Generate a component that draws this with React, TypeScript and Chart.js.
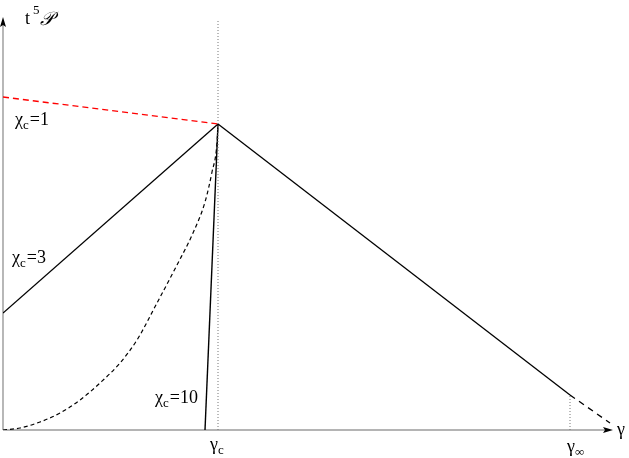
import React, { useEffect, useRef } from "react";
import { Chart, registerables } from "chart.js";

Chart.register(...registerables);

const W = 629;
const H = 458;

// data (units: arbitrary, origin at the axes crossing)
const redX = [0, 215];
const redY = [333, 306];
const chi3X = [0, 215];
const chi3Y = [117, 306];
const chi10X = [202, 215];
const chi10Y = [0, 306];
const curveX = [0, 17, 37, 57, 77, 97, 117, 134, 154, 174, 190, 202, 209, 214, 215];
const curveY = [0, 2, 8, 17, 30, 47, 67, 90, 127, 165, 197, 228, 258, 287, 306];
const rightX = [215, 567];
const rightY = [306, 35];
const tailX = [567, 607];
const tailY = [35, 7];
const gammaC = 215;
const gammaInf = 567;
const gammaCTop = 410;
const gammaInfTop = 35;

const labelMain = ["χ", "χ", "χ", "γ", "γ", "γ"];
const labelSub = ["c", "c", "c", "c", "∞", ""];
const labelRest = ["=1", "=3", "=10", "", "", ""];
const labelX = [12, 9, 152, 207, 564, 614];
const labelY = [305, 167, 27, -20, -22, -5];

const pts = (xs: number[], ys: number[]) => xs.map((x, i) => ({ x, y: ys[i] }));

export default function App() {
  const ref = useRef<HTMLCanvasElement>(null);
  useEffect(() => {
    if (!ref.current) return;
    const font = "Liberation Serif";
    const decor = {
      id: "decor",
      beforeDatasetsDraw(chart: any) {
        const ctx = chart.ctx as CanvasRenderingContext2D;
        const xs = chart.scales.x;
        const ys = chart.scales.y;
        const x0 = xs.getPixelForValue(0);
        const y0 = ys.getPixelForValue(0);
        const xEnd = xs.getPixelForValue(xs.max);
        const yTop = ys.getPixelForValue(ys.max);
        ctx.save();
        ctx.strokeStyle = "#b4b4b4";
        ctx.lineWidth = 2;
        ctx.beginPath();
        ctx.moveTo(x0, y0);
        ctx.lineTo(xEnd - 4, y0);
        ctx.stroke();
        ctx.strokeStyle = "#888888";
        ctx.lineWidth = 1.2;
        ctx.beginPath();
        ctx.moveTo(x0, y0);
        ctx.lineTo(x0, yTop + 6);
        ctx.stroke();
        ctx.fillStyle = "#000";
        ctx.beginPath();
        ctx.moveTo(xEnd + 1, y0);
        ctx.lineTo(xEnd - 9, y0 - 3);
        ctx.lineTo(xEnd - 7, y0);
        ctx.lineTo(xEnd - 9, y0 + 3);
        ctx.closePath();
        ctx.fill();
        ctx.beginPath();
        ctx.moveTo(x0, yTop - 1);
        ctx.lineTo(x0 - 3, yTop + 9);
        ctx.lineTo(x0, yTop + 7);
        ctx.lineTo(x0 + 3, yTop + 9);
        ctx.closePath();
        ctx.fill();
        ctx.restore();
      },
      afterDraw(chart: any) {
        const ctx = chart.ctx as CanvasRenderingContext2D;
        const xs = chart.scales.x;
        const ys = chart.scales.y;
        ctx.save();
        ctx.fillStyle = "#000";
        ctx.textBaseline = "alphabetic";
        ctx.textAlign = "left";
        for (let i = 0; i < labelMain.length; i++) {
          let px = xs.getPixelForValue(labelX[i]);
          const py = ys.getPixelForValue(labelY[i]);
          ctx.font = "18px " + font;
          ctx.fillText(labelMain[i], px, py);
          px += ctx.measureText(labelMain[i]).width;
          if (labelSub[i]) {
            ctx.font = "13px " + font;
            ctx.fillText(labelSub[i], px, py + 4);
            px += ctx.measureText(labelSub[i]).width + 1;
          }
          if (labelRest[i]) {
            ctx.font = "18px " + font;
            ctx.fillText(labelRest[i], px, py);
          }
        }
        const tx = xs.getPixelForValue(22);
        const ty = ys.getPixelForValue(0) - 406;
        ctx.font = "18px " + font;
        ctx.fillText("t", tx, ty);
        let p = tx + ctx.measureText("t").width + 3;
        ctx.font = "13px " + font;
        ctx.fillText("5", p, ty - 10);
        p += ctx.measureText("5").width;
        ctx.font = "italic 19px " + font;
        ctx.fillText("𝒫", p, ty + 1);
        ctx.restore();
      },
    };

    const line = (data: any[], color: string, dash: number[], width = 1.3, extra: any = {}) => ({
      type: "line" as const,
      data,
      borderColor: color,
      borderWidth: width,
      borderDash: dash,
      pointRadius: 0,
      fill: false,
      showLine: true,
      ...extra,
    });

    const chart = new Chart(ref.current, {
      type: "scatter",
      data: {
        datasets: [
          line([{ x: gammaC, y: 0 }, { x: gammaC, y: gammaCTop }], "#777", [1, 2], 1),
          line([{ x: gammaInf, y: 0 }, { x: gammaInf, y: gammaInfTop }], "#777", [1, 2], 1),
          line(pts(redX, redY), "#ff0000", [6, 4], 1.3),
          line(pts(chi3X, chi3Y), "#000", [], 1.3),
          line(pts(chi10X, chi10Y), "#000", [], 1.4),
          line(pts(curveX, curveY), "#000", [4, 3], 1.2, { cubicInterpolationMode: "monotone" }),
          line(pts(rightX, rightY), "#000", [], 1.3),
          line(pts(tailX, tailY), "#000", [6, 5], 1.3),
        ],
      },
      options: {
        animation: false,
        responsive: false,
        devicePixelRatio: 1,
        layout: { padding: { left: 3, right: 17, top: 18, bottom: 28 } },
        plugins: { legend: { display: false }, tooltip: { enabled: false } },
        scales: {
          x: { type: "linear", min: 0, max: 609, display: false },
          y: { type: "linear", min: 0, max: 412, display: false },
        },
      },
      plugins: [decor],
    });
    return () => chart.destroy();
  }, []);

  return (
    <div style={{ position: "fixed", left: 0, top: 0, width: W, height: H, background: "#fff" }}>
      <canvas ref={ref} width={W} height={H} style={{ width: W, height: H, display: "block" }} />
    </div>
  );
}
